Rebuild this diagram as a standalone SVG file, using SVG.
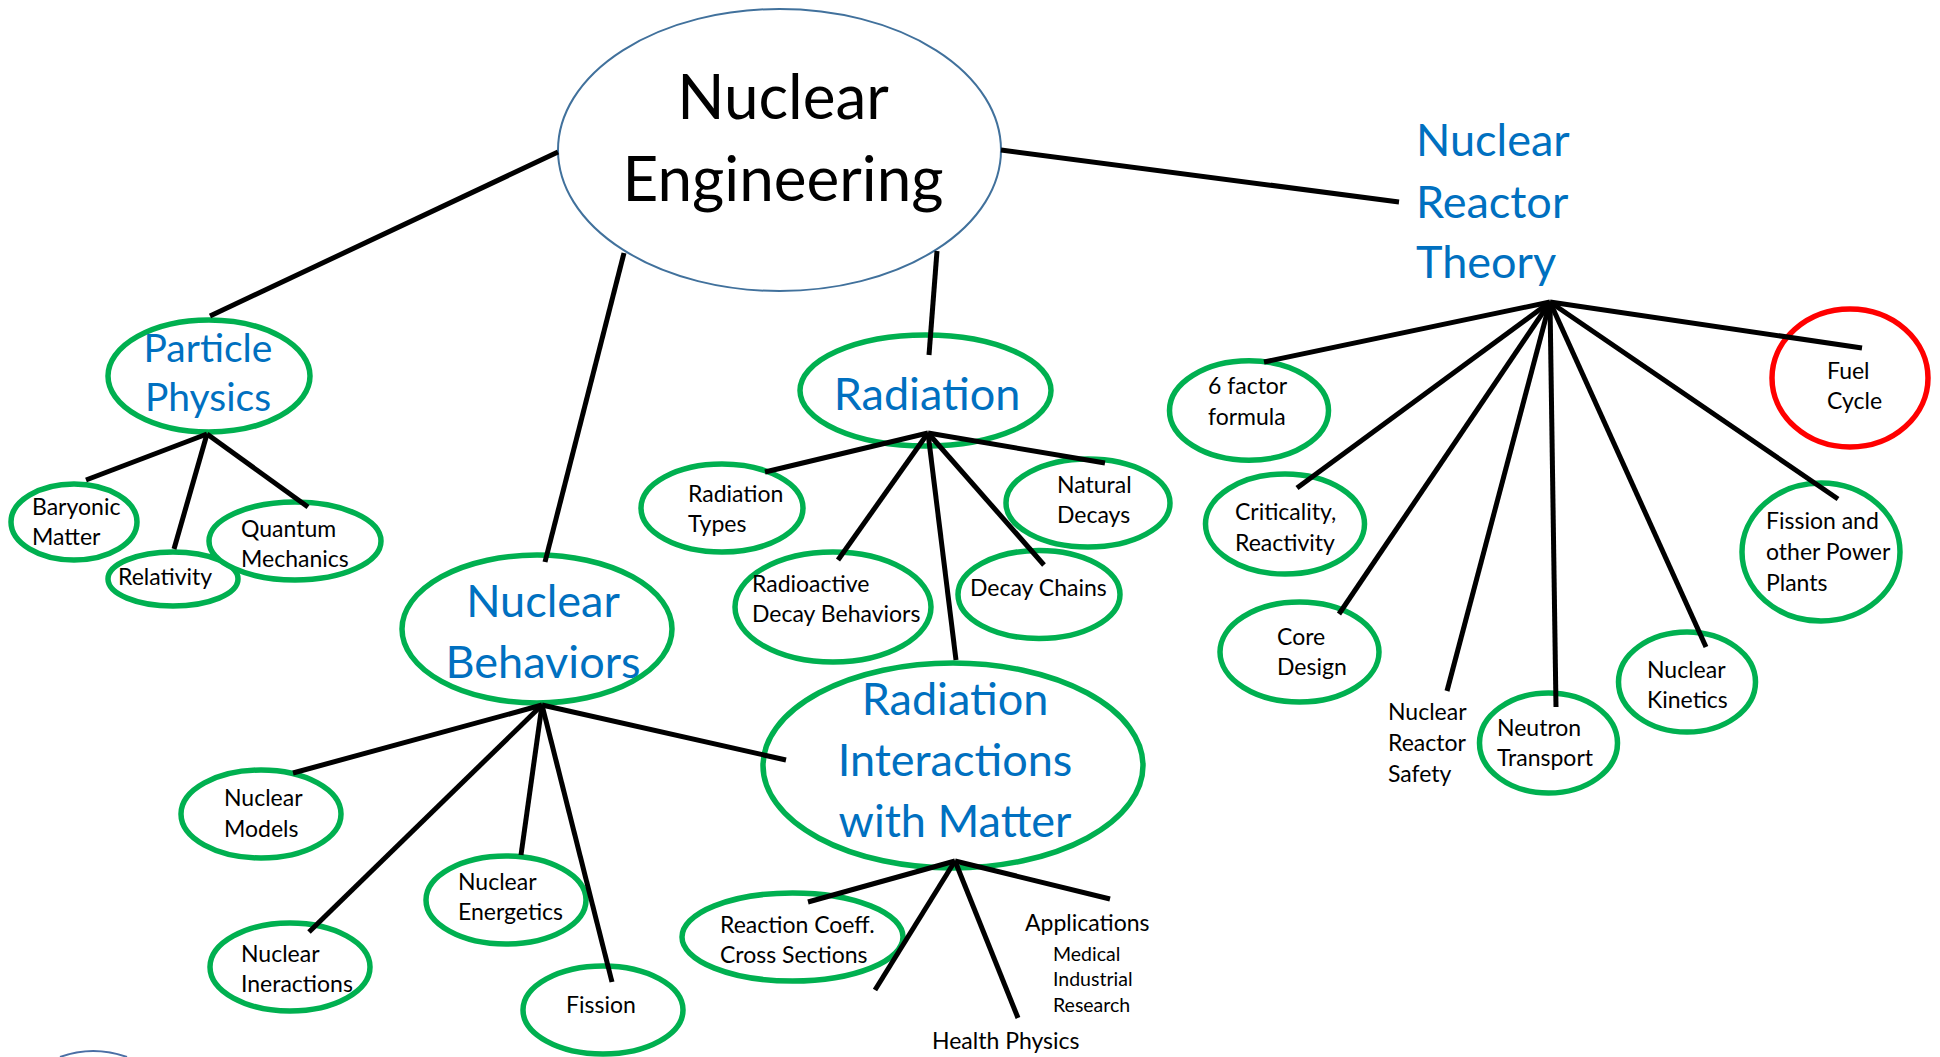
<svg xmlns="http://www.w3.org/2000/svg" width="1940" height="1057" viewBox="0 0 1940 1057">
<style>
.n{fill:#fff;stroke:#00b050;stroke-width:5.5}
.red{fill:#fff;stroke:#ff0000;stroke-width:5.5}
.main{fill:#fff;stroke:#41719c;stroke-width:2}
.c line{stroke:#000;stroke-width:5}
text{font-family:Lato,"Liberation Sans",sans-serif;fill:#000}
.s{font-size:23px}
.xs{font-size:19.5px}
.b{fill:#0070c0;font-size:45px}
.pp{fill:#0070c0;font-size:39px}
.ttl{font-size:62px}
.m{text-anchor:middle}
</style>
<rect width="1940" height="1057" fill="#fff"/>

<g id="nuclear-engineering">
<ellipse class="main" cx="779.5" cy="150" rx="221.5" ry="141"/>
<text class="ttl m" x="783" y="119">Nuclear</text>
<text class="ttl m" x="783" y="201">Engineering</text>
</g>

<g id="particle-physics">
<ellipse class="n" cx="209" cy="376" rx="101" ry="56"/>
<text class="pp m" x="208" y="362">Particle</text>
<text class="pp m" x="208" y="411">Physics</text>
</g>
<g id="baryonic-matter">
<ellipse class="n" cx="74" cy="522" rx="63" ry="38"/>
<text class="s" x="32" y="515">Baryonic</text>
<text class="s" x="32" y="545">Matter</text>
</g>
<g id="relativity">
<ellipse class="n" cx="173" cy="579" rx="65" ry="27"/>
<text class="s" x="118" y="585">Relativity</text>
</g>
<g id="quantum-mechanics">
<ellipse class="n" cx="295" cy="541" rx="86" ry="39"/>
<text class="s" x="241" y="537">Quantum</text>
<text class="s" x="241" y="567">Mechanics</text>
</g>

<g id="nuclear-behaviors">
<ellipse class="n" cx="537" cy="629" rx="135" ry="74"/>
<text class="b m" x="543" y="617">Nuclear</text>
<text class="b m" x="543" y="678">Behaviors</text>
</g>
<g id="nuclear-models">
<ellipse class="n" cx="261" cy="814" rx="80" ry="44"/>
<text class="s" x="224" y="806">Nuclear</text>
<text class="s" x="224" y="837">Models</text>
</g>
<g id="nuclear-energetics">
<ellipse class="n" cx="506" cy="900" rx="80" ry="44"/>
<text class="s" x="458" y="890">Nuclear</text>
<text class="s" x="458" y="920">Energetics</text>
</g>
<g id="nuclear-ineractions">
<ellipse class="n" cx="290" cy="967" rx="80" ry="44"/>
<text class="s" x="241" y="962">Nuclear</text>
<text class="s" x="241" y="992">Ineractions</text>
</g>
<g id="fission">
<ellipse class="n" cx="603" cy="1010" rx="80" ry="44"/>
<text class="s m" x="601" y="1013">Fission</text>
</g>

<g id="radiation">
<ellipse class="n" cx="925.5" cy="390.5" rx="125.5" ry="55.5"/>
<text class="b m" x="927" y="410">Radiation</text>
</g>
<g id="radiation-types">
<ellipse class="n" cx="722" cy="508" rx="81" ry="44"/>
<text class="s" x="688" y="502">Radiation</text>
<text class="s" x="688" y="532">Types</text>
</g>
<g id="natural-decays">
<ellipse class="n" cx="1088" cy="503" rx="82" ry="44"/>
<text class="s" x="1057" y="493">Natural</text>
<text class="s" x="1057" y="523">Decays</text>
</g>
<g id="radioactive-decay-behaviors">
<ellipse class="n" cx="833" cy="607" rx="98" ry="55"/>
<text class="s" x="752" y="592">Radioactive</text>
<text class="s" x="752" y="622">Decay Behaviors</text>
</g>
<g id="decay-chains">
<ellipse class="n" cx="1039" cy="594.5" rx="81" ry="44"/>
<text class="s" x="970" y="596">Decay Chains</text>
</g>

<g id="radiation-interactions">
<ellipse class="n" cx="953" cy="765.5" rx="190" ry="102.5"/>
<text class="b m" x="955" y="715">Radiation</text>
<text class="b m" x="955" y="776">Interactions</text>
<text class="b m" x="955" y="837">with Matter</text>
</g>
<g id="reaction-coeff">
<ellipse class="n" cx="792.5" cy="937" rx="110.5" ry="44"/>
<text class="s" x="720" y="933">Reaction Coeff.</text>
<text class="s" x="720" y="963">Cross Sections</text>
</g>
<g id="applications">
<text class="s" x="1025" y="931">Applications</text>
<text class="xs" x="1053" y="961">Medical</text>
<text class="xs" x="1053" y="986">Industrial</text>
<text class="xs" x="1053" y="1012">Research</text>
</g>
<g id="health-physics">
<text class="s" x="932" y="1049">Health Physics</text>
</g>

<g id="nuclear-reactor-theory">
<text class="b" x="1416" y="156">Nuclear</text>
<text class="b" x="1416" y="218">Reactor</text>
<text class="b" x="1416" y="278">Theory</text>
</g>
<g id="six-factor-formula">
<ellipse class="n" cx="1249" cy="410.5" rx="79.5" ry="49.7"/>
<text class="s" x="1208" y="394">6 factor</text>
<text class="s" x="1208" y="425">formula</text>
</g>
<g id="fuel-cycle">
<ellipse class="red" cx="1850" cy="378" rx="78" ry="69"/>
<text class="s" x="1827" y="379">Fuel</text>
<text class="s" x="1827" y="409">Cycle</text>
</g>
<g id="criticality-reactivity">
<ellipse class="n" cx="1285" cy="524" rx="79.5" ry="50"/>
<text class="s" x="1235" y="520">Criticality,</text>
<text class="s" x="1235" y="551">Reactivity</text>
</g>
<g id="fission-power-plants">
<ellipse class="n" cx="1821" cy="552" rx="79" ry="69"/>
<text class="s" x="1766" y="529">Fission and</text>
<text class="s" x="1766" y="560">other Power</text>
<text class="s" x="1766" y="591">Plants</text>
</g>
<g id="core-design">
<ellipse class="n" cx="1299.5" cy="652" rx="79.5" ry="50"/>
<text class="s" x="1277" y="645">Core</text>
<text class="s" x="1277" y="675">Design</text>
</g>
<g id="nuclear-reactor-safety">
<text class="s" x="1388" y="720">Nuclear</text>
<text class="s" x="1388" y="751">Reactor</text>
<text class="s" x="1388" y="782">Safety</text>
</g>
<g id="neutron-transport">
<ellipse class="n" cx="1548.5" cy="743" rx="69" ry="50"/>
<text class="s" x="1497" y="736">Neutron</text>
<text class="s" x="1497" y="766">Transport</text>
</g>
<g id="nuclear-kinetics">
<ellipse class="n" cx="1687" cy="682" rx="68.5" ry="50"/>
<text class="s" x="1647" y="678">Nuclear</text>
<text class="s" x="1647" y="708">Kinetics</text>
</g>

<g id="connectors" class="c">
<line x1="558" y1="152" x2="210" y2="316"/>
<line x1="624" y1="253" x2="545" y2="562"/>
<line x1="937" y1="251" x2="929" y2="355"/>
<line x1="1001" y1="150" x2="1399" y2="202"/>
<line x1="207" y1="434" x2="86" y2="480"/>
<line x1="207" y1="434" x2="174" y2="549"/>
<line x1="207" y1="434" x2="308" y2="507"/>
<line x1="542" y1="705" x2="293" y2="773"/>
<line x1="542" y1="705" x2="309" y2="932"/>
<line x1="542" y1="705" x2="521" y2="855"/>
<line x1="542" y1="705" x2="612" y2="982"/>
<line x1="542" y1="705" x2="786" y2="760"/>
<line x1="928" y1="433" x2="765" y2="472"/>
<line x1="928" y1="433" x2="838" y2="560"/>
<line x1="928" y1="433" x2="956" y2="660"/>
<line x1="928" y1="433" x2="1044" y2="565"/>
<line x1="928" y1="433" x2="1105" y2="463"/>
<line x1="955" y1="861" x2="808" y2="902"/>
<line x1="955" y1="861" x2="875" y2="990"/>
<line x1="955" y1="861" x2="1018" y2="1018"/>
<line x1="955" y1="861" x2="1110" y2="899"/>
<line x1="1550" y1="302" x2="1264" y2="362"/>
<line x1="1550" y1="302" x2="1297" y2="488"/>
<line x1="1550" y1="302" x2="1339" y2="614"/>
<line x1="1550" y1="302" x2="1447" y2="691"/>
<line x1="1550" y1="302" x2="1556" y2="707"/>
<line x1="1550" y1="302" x2="1706" y2="647"/>
<line x1="1550" y1="302" x2="1838" y2="499"/>
<line x1="1550" y1="302" x2="1862" y2="348"/>
</g>
<path d="M60,1057 Q93,1045 127,1057" fill="none" stroke="#4a6fa5" stroke-width="2"/>
</svg>
